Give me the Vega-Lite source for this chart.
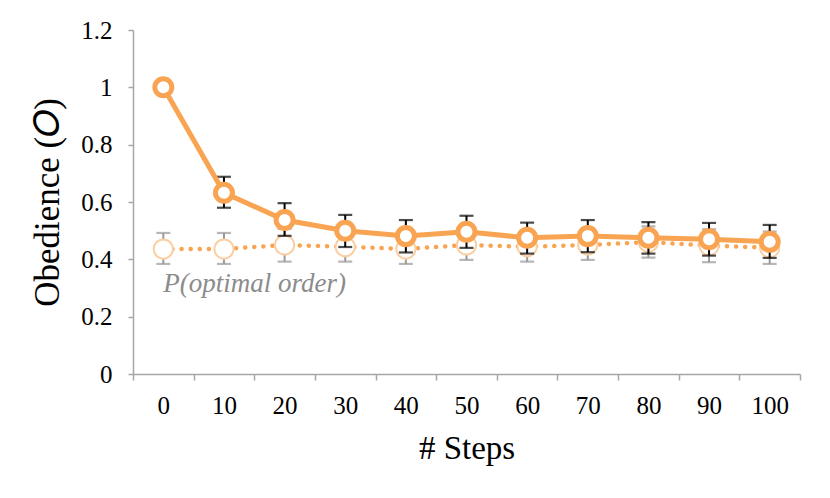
{
  "$schema": "https://vega.github.io/schema/vega-lite/v6.json",
  "width": 667,
  "height": 344,
  "autosize": "none",
  "padding": {"left": 133, "top": 30, "right": 30, "bottom": 124},
  "background": "white",
  "config": {
    "view": {"stroke": null},
    "font": "Liberation Serif",
    "axis": {"grid": false, "domainColor": "#A6A6A6", "tickColor": "#A6A6A6", "domainWidth": 1.5, "tickWidth": 1.5,
      "labelFont": "Liberation Serif", "labelColor": "black", "labelFontSize": 25,
      "titleFont": "Liberation Serif", "titleColor": "black", "titleFontWeight": "normal"}
  },
  "data": {"values": [
    {"step": "0", "series": "obedience", "value": 1.0, "lo": 1.0, "hi": 1.0},
    {"step": "10", "series": "obedience", "value": 0.632, "lo": 0.58, "hi": 0.688},
    {"step": "20", "series": "obedience", "value": 0.537, "lo": 0.482, "hi": 0.596},
    {"step": "30", "series": "obedience", "value": 0.5, "lo": 0.443, "hi": 0.555},
    {"step": "40", "series": "obedience", "value": 0.481, "lo": 0.424, "hi": 0.537},
    {"step": "50", "series": "obedience", "value": 0.496, "lo": 0.44, "hi": 0.552},
    {"step": "60", "series": "obedience", "value": 0.475, "lo": 0.42, "hi": 0.528},
    {"step": "70", "series": "obedience", "value": 0.481, "lo": 0.425, "hi": 0.537},
    {"step": "80", "series": "obedience", "value": 0.475, "lo": 0.42, "hi": 0.53},
    {"step": "90", "series": "obedience", "value": 0.47, "lo": 0.413, "hi": 0.527},
    {"step": "100", "series": "obedience", "value": 0.461, "lo": 0.405, "hi": 0.52},
    {"step": "0", "series": "optimal", "value": 0.436, "lo": 0.384, "hi": 0.492},
    {"step": "10", "series": "optimal", "value": 0.436, "lo": 0.384, "hi": 0.492},
    {"step": "20", "series": "optimal", "value": 0.45, "lo": 0.392, "hi": 0.506},
    {"step": "30", "series": "optimal", "value": 0.444, "lo": 0.392, "hi": 0.5},
    {"step": "40", "series": "optimal", "value": 0.436, "lo": 0.384, "hi": 0.492},
    {"step": "50", "series": "optimal", "value": 0.45, "lo": 0.398, "hi": 0.505},
    {"step": "60", "series": "optimal", "value": 0.444, "lo": 0.392, "hi": 0.5},
    {"step": "70", "series": "optimal", "value": 0.45, "lo": 0.398, "hi": 0.505},
    {"step": "80", "series": "optimal", "value": 0.46, "lo": 0.406, "hi": 0.515},
    {"step": "90", "series": "optimal", "value": 0.448, "lo": 0.39, "hi": 0.505},
    {"step": "100", "series": "optimal", "value": 0.44, "lo": 0.384, "hi": 0.497}
  ]},
  "encoding": {
    "x": {"field": "step", "type": "ordinal", "sort": null,
      "scale": {"paddingInner": 0, "paddingOuter": 0},
      "axis": {"title": "# Steps", "titleFontSize": 33, "titleFont": "Liberation Serif", "labelFont": "Liberation Serif", "labelFontSize": 25, "labelAngle": 0, "tickBand": "extent", "tickSize": 6, "labelPadding": 13, "titlePadding": 14}}
  },
  "layer": [
    {
      "transform": [{"filter": "datum.series === 'optimal'"}],
      "mark": {"type": "line", "color": "#F8A452", "strokeWidth": 4.5, "strokeDash": [0.1, 9], "strokeCap": "round"},
      "encoding": {"y": {"field": "value", "type": "quantitative", "scale": {"domain": [0, 1.2]},
        "axis": {"title": "Obedience (𝑂)", "titleFontSize": 35, "titleFont": "Liberation Serif", "labelFont": "Liberation Serif", "labelFontSize": 25, "values": [0, 0.2, 0.4, 0.6, 0.8, 1, 1.2], "format": "~g", "tickSize": 5, "labelPadding": 16, "titlePadding": 15}}}
    },
    {
      "transform": [{"filter": "datum.series === 'optimal'"}],
      "mark": {"type": "rule", "color": "#999999", "strokeWidth": 2},
      "encoding": {"y": {"field": "lo", "type": "quantitative"}, "y2": {"field": "hi"}}
    },
    {
      "transform": [{"filter": "datum.series === 'optimal'"}],
      "mark": {"type": "tick", "color": "#999999", "thickness": 2.2, "size": 14, "orient": "horizontal"},
      "encoding": {"y": {"field": "lo", "type": "quantitative"}}
    },
    {
      "transform": [{"filter": "datum.series === 'optimal'"}],
      "mark": {"type": "tick", "color": "#999999", "thickness": 2.2, "size": 14, "orient": "horizontal"},
      "encoding": {"y": {"field": "hi", "type": "quantitative"}}
    },
    {
      "transform": [{"filter": "datum.series === 'optimal'"}],
      "mark": {"type": "point", "shape": "circle", "size": 370, "filled": false, "fill": "white", "fillOpacity": 1, "stroke": "#FBCFA4", "strokeWidth": 2, "opacity": 1},
      "encoding": {"y": {"field": "value", "type": "quantitative"}}
    },
    {
      "transform": [{"filter": "datum.series === 'obedience' && datum.step !== '0'"}],
      "mark": {"type": "rule", "color": "black", "strokeWidth": 2},
      "encoding": {"y": {"field": "lo", "type": "quantitative"}, "y2": {"field": "hi"}}
    },
    {
      "transform": [{"filter": "datum.series === 'obedience' && datum.step !== '0'"}],
      "mark": {"type": "tick", "color": "black", "thickness": 2.2, "size": 14, "orient": "horizontal"},
      "encoding": {"y": {"field": "lo", "type": "quantitative"}}
    },
    {
      "transform": [{"filter": "datum.series === 'obedience' && datum.step !== '0'"}],
      "mark": {"type": "tick", "color": "black", "thickness": 2.2, "size": 14, "orient": "horizontal"},
      "encoding": {"y": {"field": "hi", "type": "quantitative"}}
    },
    {
      "transform": [{"filter": "datum.series === 'obedience'"}],
      "mark": {"type": "line", "color": "#F8A452", "strokeWidth": 5},
      "encoding": {"y": {"field": "value", "type": "quantitative"}}
    },
    {
      "transform": [{"filter": "datum.series === 'obedience'"}],
      "mark": {"type": "point", "shape": "circle", "size": 290, "filled": false, "fill": "white", "fillOpacity": 1, "stroke": "#F8A452", "strokeWidth": 5, "opacity": 1},
      "encoding": {"y": {"field": "value", "type": "quantitative"}}
    },
    {
      "data": {"values": [{"step": "0", "value": 0.285, "label": "P(optimal order)"}]},
      "mark": {"type": "text", "align": "left", "baseline": "alphabetic", "font": "Liberation Serif", "fontStyle": "italic", "fontSize": 27, "color": "#8C8C8C"},
      "encoding": {"y": {"field": "value", "type": "quantitative"}, "text": {"field": "label"}}
    }
  ]
}
